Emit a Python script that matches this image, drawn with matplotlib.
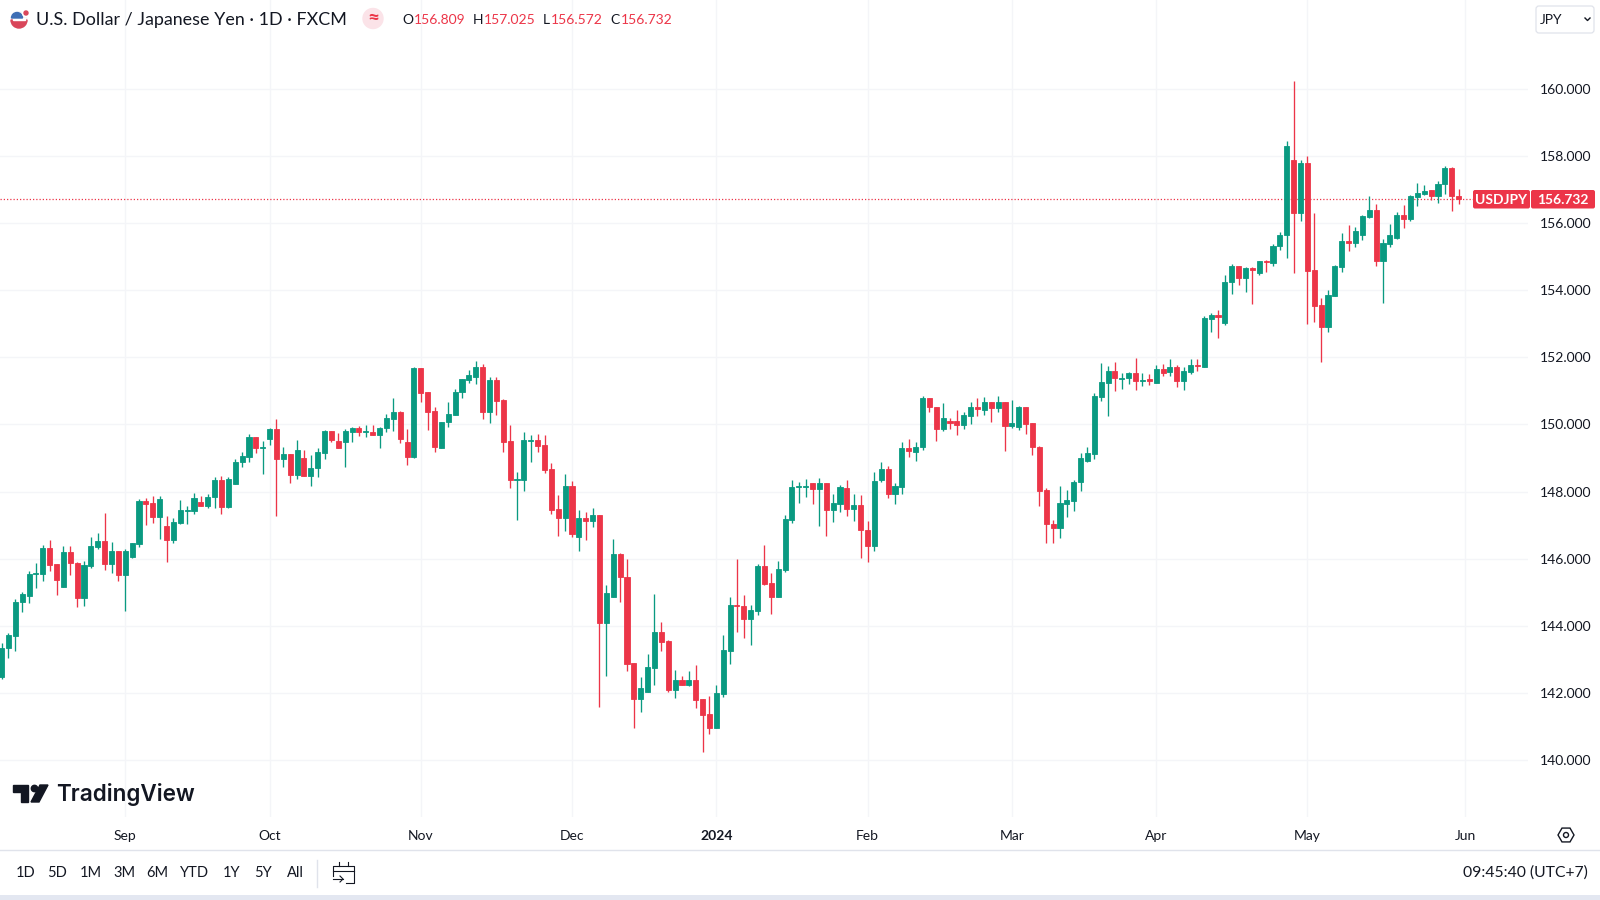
import numpy as np
import matplotlib
matplotlib.use("Agg")
from matplotlib import pyplot as plt
from matplotlib.patches import Circle, FancyBboxPatch, Polygon, Rectangle, RegularPolygon, Wedge

plt.rcParams['font.family'] = ['Lato', 'DejaVu Sans']

# daily USD/JPY candles
opens = [142.46,143.34,143.70,144.70,144.90,145.55,145.55,146.33,145.84,145.17,
         146.21,145.88,144.82,145.78,146.36,146.53,145.84,146.23,145.52,146.04,
         146.44,147.72,147.65,147.25,146.96,146.56,147.05,147.43,147.43,147.70,
         147.58,147.84,148.35,147.55,148.23,148.87,149.04,149.64,149.30,149.57,
         149.87,148.97,149.12,148.50,149.01,148.46,148.70,149.16,149.81,149.51,
         149.49,149.78,149.90,149.79,149.79,149.70,149.89,150.16,150.36,149.49,
         149.04,151.68,150.96,150.40,149.30,150.06,150.29,150.96,151.32,151.42,
         151.72,150.36,151.32,150.73,149.51,148.35,148.35,149.51,149.54,149.39,
         148.66,147.47,147.21,148.17,146.64,147.20,147.12,147.30,144.08,144.87,
         146.14,145.44,142.89,141.83,142.02,142.75,143.82,143.55,142.09,142.39,
         142.24,142.39,141.81,141.38,140.95,141.97,143.25,144.62,144.59,144.21,
         144.45,145.77,145.27,144.85,145.67,147.16,148.13,148.15,148.25,148.08,
         148.27,147.45,147.63,148.10,147.48,147.60,146.86,146.39,148.35,148.66,
         147.93,148.15,149.31,149.19,149.32,150.78,150.53,149.86,150.11,150.11,
         149.98,150.26,150.53,150.43,150.68,150.48,150.68,149.95,149.93,150.53,
         150.03,149.34,148.05,147.03,146.91,147.63,147.73,148.28,148.92,149.12,
         150.83,151.23,151.58,151.37,151.38,151.54,151.31,151.36,151.23,151.65,
         151.55,151.70,151.31,151.55,151.78,151.71,153.15,153.27,153.02,154.24,
         154.71,154.36,154.66,154.53,154.87,154.81,155.31,155.64,157.89,156.30,
         157.79,154.61,153.57,152.92,153.84,154.69,155.48,155.41,155.66,156.17,
         156.40,154.86,155.39,155.56,156.25,156.13,156.78,156.87,157.00,156.80,
         157.16,157.65,156.81]
highs = [143.50,143.79,144.79,145.00,145.62,145.87,146.41,146.56,145.85,146.39,
         146.39,145.90,145.94,146.64,146.76,147.37,146.51,146.23,146.29,146.48,
         147.78,147.82,147.87,147.87,147.27,147.22,147.75,147.58,147.95,147.87,
         147.92,148.44,148.46,148.43,148.97,149.19,149.72,149.64,149.51,149.89,
         150.16,149.32,149.12,149.54,149.24,149.09,149.31,149.84,149.81,149.76,
         149.86,149.93,149.95,149.98,149.98,149.93,150.30,150.78,150.40,149.86,
         151.72,151.68,150.96,150.53,150.08,150.68,151.06,151.37,151.62,151.89,
         151.79,151.42,151.42,150.75,149.98,148.59,149.77,149.69,149.72,149.69,
         148.84,147.90,148.52,148.33,147.45,147.38,147.50,147.30,145.22,146.59,
         146.18,146.00,142.89,142.47,143.16,144.95,144.11,143.58,142.67,142.49,
         142.64,142.84,141.81,141.91,142.22,143.73,144.85,145.98,144.92,144.62,
         145.85,146.41,145.57,145.93,147.30,148.35,148.30,148.38,148.25,148.40,
         148.27,147.93,148.19,148.35,147.93,147.90,147.11,148.59,148.89,148.77,
         148.25,149.47,149.57,149.47,150.86,150.78,150.53,150.65,150.20,150.43,
         150.38,150.68,150.78,150.83,150.68,150.85,150.68,150.73,150.55,150.53,
         150.05,149.36,148.12,147.15,148.17,148.05,148.35,149.14,149.34,150.95,
         151.82,151.75,151.87,151.54,151.57,151.97,151.54,151.49,151.77,151.80,
         151.96,151.78,151.70,151.95,151.95,153.24,153.32,153.40,154.46,154.78,
         154.73,154.69,154.69,154.88,154.89,155.39,155.74,158.44,160.23,157.87,
         157.99,156.30,153.77,154.02,154.76,155.71,155.95,155.88,156.23,156.80,
         156.57,155.54,155.98,156.32,156.55,156.83,157.20,157.15,157.00,157.25,
         157.71,157.67,157.03]
lows = [142.40,143.03,143.26,144.42,144.67,145.12,145.32,145.62,144.92,145.15,
        145.50,144.55,144.60,145.73,146.28,145.66,145.57,145.34,144.45,146.01,
        146.36,147.00,147.07,146.59,145.89,146.46,147.02,147.02,147.32,147.57,
        147.52,147.50,147.33,147.52,148.22,148.72,148.89,149.14,148.52,149.39,
        147.28,148.74,148.27,148.38,148.46,148.17,148.43,148.97,149.47,149.29,
        148.74,149.49,149.66,149.62,149.68,149.31,149.79,149.81,149.46,148.79,
        148.99,150.66,149.84,149.19,149.29,149.93,150.28,150.80,151.23,151.21,
        150.16,150.03,150.28,149.19,148.12,147.15,148.02,148.89,149.19,148.54,
        147.33,146.69,146.83,146.66,146.24,146.56,146.93,141.59,142.49,144.87,
        144.72,142.64,140.95,141.43,142.02,142.24,143.25,142.04,141.86,142.24,
        142.19,141.54,140.25,140.78,140.95,141.87,142.87,143.80,143.65,143.43,
        144.33,145.22,144.35,144.85,145.59,147.06,147.65,147.83,147.63,146.98,
        146.68,147.09,147.40,147.26,147.11,146.01,145.89,146.24,148.28,147.82,
        147.63,147.93,149.02,148.91,149.24,150.36,149.51,149.82,149.88,149.69,
        149.86,150.01,150.26,150.28,150.08,150.38,149.21,149.91,149.84,149.72,
        149.09,147.57,146.48,146.48,146.61,147.23,147.42,148.02,148.89,148.98,
        150.71,150.26,151.00,151.06,151.21,151.03,151.16,151.18,151.23,151.44,
        151.46,151.13,151.03,151.51,151.58,151.70,152.77,152.59,152.97,153.90,
        154.17,153.95,153.60,154.46,154.54,154.73,155.21,154.96,154.51,156.08,
        153.00,153.05,151.85,152.75,153.84,154.56,155.16,155.29,155.51,156.15,
        154.71,153.62,155.28,155.54,155.87,156.08,156.52,156.85,156.68,156.60,
        156.88,156.37,156.57]
closes = [143.34,143.72,144.70,144.94,145.55,145.58,146.33,145.82,145.35,146.21,
          145.86,144.82,145.81,146.38,146.53,145.84,146.23,145.52,146.23,146.46,
          147.72,147.64,147.25,147.78,146.56,147.08,147.45,147.46,147.82,147.58,
          147.84,148.35,147.55,148.38,148.89,149.06,149.64,149.30,149.33,149.87,
          148.97,149.12,148.50,149.24,148.46,148.71,149.17,149.81,149.54,149.30,
          149.81,149.90,149.77,149.81,149.70,149.90,150.18,150.36,149.57,149.04,
          151.68,150.94,150.38,149.32,150.08,150.30,150.98,151.35,151.47,151.72,
          150.36,151.32,150.71,149.49,148.35,148.38,149.54,149.54,149.36,148.64,
          147.45,147.21,148.17,146.74,147.20,147.12,147.30,144.08,144.97,146.14,
          145.44,142.87,141.83,142.14,142.76,143.82,143.53,142.09,142.39,142.24,
          142.39,141.79,141.35,140.95,141.99,143.28,144.62,144.58,144.21,144.47,
          145.77,145.25,144.85,145.70,147.18,148.15,148.16,148.18,148.08,148.27,
          147.45,147.65,148.15,147.48,147.60,146.84,146.38,148.32,148.66,147.93,
          148.17,149.31,149.22,149.34,150.78,150.51,149.86,150.18,150.03,149.98,
          150.28,150.53,150.46,150.68,150.48,150.68,149.95,150.05,150.53,150.01,
          149.32,148.03,147.03,146.91,147.65,147.75,148.30,148.99,149.14,150.85,
          151.26,151.58,151.38,151.40,151.54,151.29,151.34,151.29,151.65,151.52,
          151.70,151.31,151.60,151.78,151.73,153.17,153.27,153.20,154.24,154.71,
          154.36,154.66,154.59,154.86,154.84,155.33,155.66,158.29,156.30,157.79,
          154.58,153.54,152.92,153.87,154.71,155.48,155.41,155.76,156.20,156.40,
          154.86,155.41,155.66,156.25,156.13,156.80,156.90,156.97,156.80,157.18,
          157.65,156.80,156.73]

price_ticks = [140, 142, 144, 146, 148, 150, 152, 154, 156, 158, 160]
month_pos = [18, 39, 61, 83, 104, 126, 147, 168, 190, 213]
month_names = ['Sep', 'Oct', 'Nov', 'Dec', '2024', 'Feb', 'Mar', 'Apr', 'May', 'Jun']
last_price = 156.732
ohlc_names = ['O', 'H', 'L', 'C']
ohlc_vals = ['156.809', '157.025', '156.572', '156.732']
ranges = ['1D', '5D', '1M', '3M', '6M', 'YTD', '1Y', '5Y', 'All']

GREEN = '#0A9A81'
RED = '#EC3548'
INK = '#131722'
GRID = '#F4F5F8'

fig = plt.figure(figsize=(16, 9), dpi=100, facecolor='white')
ax = fig.add_axes([0, 83 / 900, 1528 / 1600, 817 / 900])

o = np.array(opens)
h = np.array(highs)
l = np.array(lows)
c = np.array(closes)
x = np.arange(len(o))
cols = np.where(c >= o, GREEN, RED)

ax.vlines(x, l, h, colors=cols, linewidth=0.95, zorder=3)
ax.bar(x, np.abs(c - o), bottom=np.minimum(o, c), width=0.74, color=cols,
       edgecolor=cols, linewidth=0.6, zorder=4)
ax.axhline(last_price, color=RED, linewidth=0.9, linestyle=(0, (1, 1.6)), zorder=2)

ax.set_xlim(-0.226, 222.1)
ax.set_ylim(138.30, 162.653)
ax.set_yticks(price_ticks)
ax.set_yticklabels(['%.3f' % p for p in price_ticks])
ax.yaxis.tick_right()
ax.set_xticks(month_pos)
ax.set_xticklabels(month_names)
ax.tick_params(axis='both', length=0, labelsize=10, labelcolor=INK)
ax.tick_params(axis='x', pad=9.5)
ax.tick_params(axis='y', pad=8.6)
ax.get_xticklabels()[4].set_fontweight('bold')
ax.grid(True, color=GRID, linewidth=1)
ax.set_axisbelow(True)
for s in ax.spines.values():
    s.set_visible(False)

# page furniture, placed in pixels
ui = fig.add_axes([0, 0, 1, 1], facecolor='none', zorder=5)
ui.set_xlim(0, 1600)
ui.set_ylim(900, 0)
ui.axis('off')

# header
ui.add_patch(Circle((19, 20), 8, color='#F4F4F6'))
ui.add_patch(Wedge((19, 20), 8, 0, 180, color='#D9465A'))
ui.add_patch(Rectangle((13, 18), 12, 2, color='white'))
ui.add_patch(Wedge((17, 18), 5.5, 180, 360, color='#3F6FB5'))
ui.add_patch(Circle((26, 13), 3.5, color='white'))
ui.add_patch(Circle((26, 13), 2, color='#D9465A'))
ui.text(36, 20, 'U.S. Dollar / Japanese Yen \u00b7 1D \u00b7 FXCM', fontsize=12.9, color=INK,
        va='center', ha='left')
ui.add_patch(Circle((373, 18.5), 10, color='#FBE3E8'))
ui.text(373, 18, '\u2248', fontsize=15, color=RED, va='center', ha='center', fontweight='bold')
for name, val, xn, xv in zip(ohlc_names, ohlc_vals, [402, 473, 543, 610], [414, 484, 551, 621]):
    ui.text(xn, 20, name, fontsize=10, color=INK, va='center', ha='left')
    ui.text(xv, 20, val, fontsize=10, color=RED, va='center', ha='left')

# currency box
ui.add_patch(FancyBboxPatch((1536, 6), 58, 27, boxstyle='round,pad=0,rounding_size=3',
                            facecolor='white', edgecolor='#E0E3EB', linewidth=0.9))
ui.text(1540, 20, 'JPY', fontsize=10, color=INK, va='center', ha='left')
ui.plot([1585, 1587.5, 1590], [18, 20.5, 18], color=INK, linewidth=1)

# last price tag
ui.add_patch(FancyBboxPatch((1473, 190), 57, 18.5, boxstyle='round,pad=0,rounding_size=2', color=RED, linewidth=0))
ui.add_patch(FancyBboxPatch((1531, 190), 64, 18.5, boxstyle='round,pad=0,rounding_size=2', color=RED, linewidth=0))
ui.text(1501, 200, 'USDJPY', fontsize=10, color='white', va='center', ha='center', fontweight='bold')
ui.text(1563, 200, '%.3f' % last_price, fontsize=10, color='white', va='center', ha='center', fontweight='bold')

# watermark
ui.add_patch(Polygon([(13, 785), (28, 785), (28, 802), (20.5, 802), (20.5, 792), (13, 792)], color=INK))
ui.add_patch(Circle((34.5, 788.5), 3.2, color=INK))
ui.add_patch(Polygon([(40, 785), (48, 785), (39, 802), (31, 802)], color=INK))
ui.text(56, 794, 'TradingView', family=['Inter', 'DejaVu Sans'], fontsize=16.2, fontweight='semibold',
        color=INK, va='center', ha='left')

# settings hexagon next to the time axis
ui.add_patch(RegularPolygon((1566, 835), 6, radius=8, orientation=np.pi / 2, facecolor='none',
                            edgecolor=INK, linewidth=1))
ui.add_patch(Circle((1566, 835), 2.5, facecolor='none', edgecolor=INK, linewidth=1))

# bottom bar
ui.plot([0, 1600], [850, 850], color='#E0E3EB', linewidth=1)
ui.add_patch(Rectangle((0, 895), 1600, 5, color='#E3E7F1', linewidth=0))
for label, xp in zip(ranges, [26, 57, 91, 124, 157, 195, 232, 263, 295]):
    ui.text(xp, 873, label, fontsize=10.5, color=INK, va='center', ha='center')
ui.plot([317, 317], [860, 887], color='#E0E3EB', linewidth=1)
ui.plot([333, 333, 354, 354, 346], [876, 866, 866, 883, 883], color=INK, linewidth=0.8)
ui.plot([333, 354], [871, 871], color=INK, linewidth=0.8)
ui.plot([339, 339], [862, 866], color=INK, linewidth=0.8)
ui.plot([348, 348], [862, 866], color=INK, linewidth=0.8)
ui.plot([333, 343], [879, 879], color=INK, linewidth=0.8)
ui.plot([340, 343, 340], [876, 879, 882], color=INK, linewidth=0.8)
ui.text(1588, 873, '09:45:40 (UTC+7)', fontsize=11.3, color=INK, va='center', ha='right')

fig.savefig('out.png', dpi=100)
